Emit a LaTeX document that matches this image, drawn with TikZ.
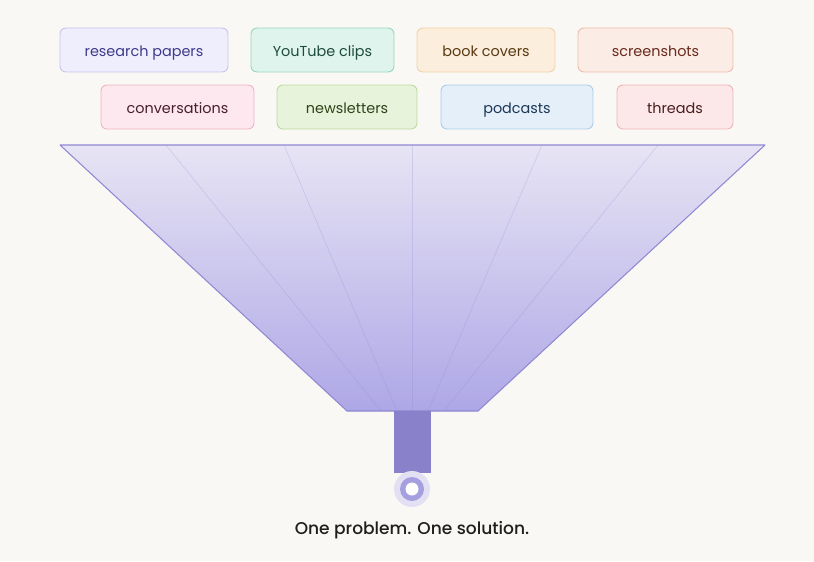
\documentclass[tikz,border=0pt]{standalone}
\usepackage{fontspec}
\setmainfont{Poppins}
\newfontfamily\titlefont{Poppins Medium}
\definecolor{paper}{HTML}{FAF8F4}
\definecolor{rpfill}{HTML}{EFEEFC}\definecolor{rpline}{HTML}{C7C3EE}\definecolor{rptext}{HTML}{3F3A8A}
\definecolor{ytfill}{HTML}{DFF4EC}\definecolor{ytline}{HTML}{96D6BC}\definecolor{yttext}{HTML}{1F4D3E}
\definecolor{bcfill}{HTML}{FBEEDC}\definecolor{bcline}{HTML}{F0D3A8}\definecolor{bctext}{HTML}{5A3A14}
\definecolor{ssfill}{HTML}{FBECE6}\definecolor{ssline}{HTML}{EFBBAA}\definecolor{sstext}{HTML}{6A2A1C}
\definecolor{cvfill}{HTML}{FCE8EE}\definecolor{cvline}{HTML}{EFB3C5}\definecolor{cvtext}{HTML}{4A1E2E}
\definecolor{nlfill}{HTML}{E8F3DC}\definecolor{nlline}{HTML}{BADB9A}\definecolor{nltext}{HTML}{2E4418}
\definecolor{pcfill}{HTML}{E4EFFA}\definecolor{pcline}{HTML}{AACCEA}\definecolor{pctext}{HTML}{1E3856}
\definecolor{thfill}{HTML}{FCE8E8}\definecolor{thline}{HTML}{EFB4B4}\definecolor{thtext}{HTML}{4A1E1E}
\definecolor{funtop}{HTML}{E7E4F4}
\definecolor{funbot}{HTML}{AEA7E6}
\definecolor{funline}{HTML}{8F88D3}
\definecolor{spout}{HTML}{8982CB}
\definecolor{ring}{HTML}{A59FE0}
\definecolor{halo}{HTML}{E3E0F4}
\tikzset{
  tag/.style={draw, rounded corners=3.4pt, line width=0.5pt, inner sep=0pt,
    minimum height=0.88cm, text height={1ex+0.42em}, text depth=0.18em,
    font=\fontsize{8.2}{10}\selectfont},
  seam/.style={draw=funline, line width=0.4pt, opacity=0.25}
}

\begin{document}
\begin{tikzpicture}[x=0.02cm,y=-0.02cm]
		%%%%% START %%%%%
		\fill[paper] (0,0) rectangle (814,561);
		\useasboundingbox (0,0) rectangle (814,561);
		
		% sources, top row
		\node[tag, fill=rpfill, draw=rpline, text=rptext, minimum width=3.36cm] (rp) at (144,50) {research papers};
		\node[tag, fill=ytfill, draw=ytline, text=yttext, minimum width=2.86cm] (yt) at (322.5,50) {YouTube clips};
		\node[tag, fill=bcfill, draw=bcline, text=bctext, minimum width=2.76cm] (bc) at (486,50) {book covers};
		\node[tag, fill=ssfill, draw=ssline, text=sstext, minimum width=3.10cm] (ss) at (655.5,50) {screenshots};
		
		% sources, second row
		\node[tag, fill=cvfill, draw=cvline, text=cvtext, minimum width=3.06cm] (cv) at (177.5,107) {conversations};
		\node[tag, fill=nlfill, draw=nlline, text=nltext, minimum width=2.80cm] (nl) at (347,107) {newsletters};
		\node[tag, fill=pcfill, draw=pcline, text=pctext, minimum width=3.04cm] (pc) at (517,107) {podcasts};
		\node[tag, fill=thfill, draw=thline, text=thtext, minimum width=2.32cm] (th) at (675,107) {threads};
		
		% funnel
		\shade[top color=funtop, bottom color=funbot] (60,145) -- (765,145) -- (478,411) -- (347,411) -- cycle;
		\foreach \a/\b in {166/381, 284/397, 412/412, 542/428, 658/444}
			\draw[seam] (\a,145) -- (\b,411);
		\draw[funline, line width=0.6pt, line join=round] (60,145) -- (765,145) -- (478,411) -- (347,411) -- cycle;
		
		% spout and drop
		\fill[spout] (394,411) rectangle (431,473);
		\fill[halo] (412,489) circle (0.36cm);
		\fill[ring] (412,489) circle (0.24cm);
		\fill[white] (412,489) circle (0.13cm);
		
		\node[font=\titlefont\fontsize{9.7}{12}\selectfont, text=black!88] (goal) at (412,530) {One problem. One solution.};
		%%%%% END %%%%%
\end{tikzpicture}
\end{document}
